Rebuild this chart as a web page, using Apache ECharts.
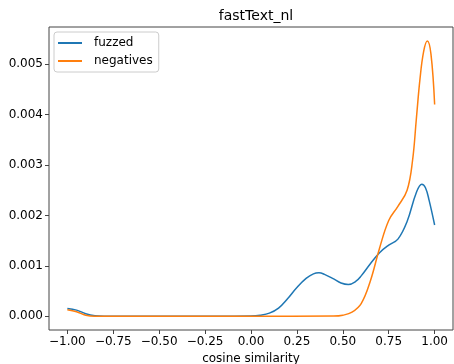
<!DOCTYPE html>
<html>
<head>
<meta charset="utf-8">
<script src="https://cdn.jsdelivr.net/npm/echarts@6/dist/echarts.min.js"></script>
<style>
  html, body { margin: 0; padding: 0; background: #fff; }
  #chart { width: 454px; height: 364px; }
</style>
</head>
<body>
<div id="chart"></div>
<script>
// density values (x = cosine similarity)
const fuzzedX = [-1.00, -0.95, -0.90, -0.85, -0.80, -0.50, -0.20, 0.00, 0.05, 0.10, 0.15, 0.20, 0.25, 0.30, 0.34, 0.37, 0.40, 0.45, 0.49, 0.53, 0.57, 0.60, 0.65, 0.70, 0.75, 0.80, 0.85, 0.90, 0.93, 0.95, 0.97, 1.00];
const fuzzedY = [0.000155, 0.00012, 0.00005, 0.00001, 0.0, 0.0, 0.0, 0.000005, 0.00002, 0.00006, 0.00016, 0.00035, 0.00057, 0.00075, 0.00084, 0.00086, 0.00083, 0.00074, 0.00066, 0.00063, 0.00069, 0.0008, 0.00104, 0.00126, 0.00141, 0.00153, 0.00188, 0.00245, 0.00262, 0.00255, 0.0023, 0.00181];

const negativesX = [-1.00, -0.95, -0.90, -0.85, -0.80, -0.50, 0.00, 0.45, 0.50, 0.55, 0.60, 0.65, 0.70, 0.75, 0.80, 0.85, 0.88, 0.90, 0.92, 0.94, 0.96, 0.98, 1.00];
const negativesY = [0.00013, 0.00009, 0.00002, 0.0, 0.0, 0.0, 0.0, 0.000003, 0.00002, 0.00008, 0.00025, 0.0007, 0.00135, 0.0019, 0.00218, 0.0025, 0.0031, 0.0039, 0.0047, 0.00525, 0.00546, 0.0052, 0.0042];

const xTicks = [-1.0, -0.75, -0.5, -0.25, 0.0, 0.25, 0.5, 0.75, 1.0];
const yTicks = [0.0, 0.001, 0.002, 0.003, 0.004, 0.005];

const pair = (xs, ys) => xs.map((x, i) => [x, ys[i]]);
const fmt = (v, d) => (v < 0 ? '\u2212' : '') + Math.abs(v).toFixed(d);

const font = 'DejaVu Sans';
const chart = echarts.init(document.getElementById('chart'));

chart.setOption({
    animation: false,
    title: {
        text: 'fastText_nl',
        left: 251,
        top: 4,
        textAlign: 'center',
        textStyle: { fontFamily: font, fontSize: 14, fontWeight: 'normal', color: '#000' },
    },
    grid: {
        left: 49,
        right: 1,
        top: 27,
        bottom: 34,
        outerBoundsMode: 'none',
        show: true,
        borderColor: '#444',
        borderWidth: 1,
    },
    legend: {
        orient: 'vertical',
        left: 54,
        top: 32,
        padding: [5, 6, 5, 4],
        itemGap: 6,
        itemWidth: 24,
        itemHeight: 2,
        icon: 'rect',
        backgroundColor: '#fff',
        borderColor: '#ccc',
        borderWidth: 1,
        borderRadius: 3,
        textStyle: { fontFamily: font, fontSize: 12, color: '#000', padding: [0, 0, 0, 7] },
        data: ['fuzzed', 'negatives'],
    },
    xAxis: {
        type: 'value',
        min: -1.1,
        max: 1.1,
        name: 'cosine similarity',
        nameLocation: 'middle',
        nameGap: 22,
        nameTextStyle: { fontFamily: font, fontSize: 12, color: '#000' },
        splitLine: { show: false },
        axisLine: { show: false, onZero: false },
        axisTick: { show: true, length: 4, lineStyle: { color: '#444' }, customValues: xTicks },
        axisLabel: {
            fontFamily: font, fontSize: 12, color: '#000', margin: 6,
            customValues: xTicks,
            formatter: v => fmt(v, 2),
        },
    },
    yAxis: {
        type: 'value',
        min: -0.000274,
        max: 0.00574,
        splitLine: { show: false },
        axisLine: { show: false, onZero: false },
        axisTick: { show: true, length: 4, lineStyle: { color: '#444' }, customValues: yTicks },
        axisLabel: {
            fontFamily: font, fontSize: 12, color: '#000', margin: 6,
            customValues: yTicks,
            formatter: v => fmt(v, 3),
        },
    },
    series: [
        {
            name: 'fuzzed',
            type: 'line',
            data: pair(fuzzedX, fuzzedY),
            smooth: 0.4,
            symbol: 'none',
            lineStyle: { color: '#1f77b4', width: 1.5 },
            itemStyle: { color: '#1f77b4' },
        },
        {
            name: 'negatives',
            type: 'line',
            data: pair(negativesX, negativesY),
            smooth: 0.4,
            symbol: 'none',
            lineStyle: { color: '#ff7f0e', width: 1.5 },
            itemStyle: { color: '#ff7f0e' },
        },
    ],
});
</script>
</body>
</html>
